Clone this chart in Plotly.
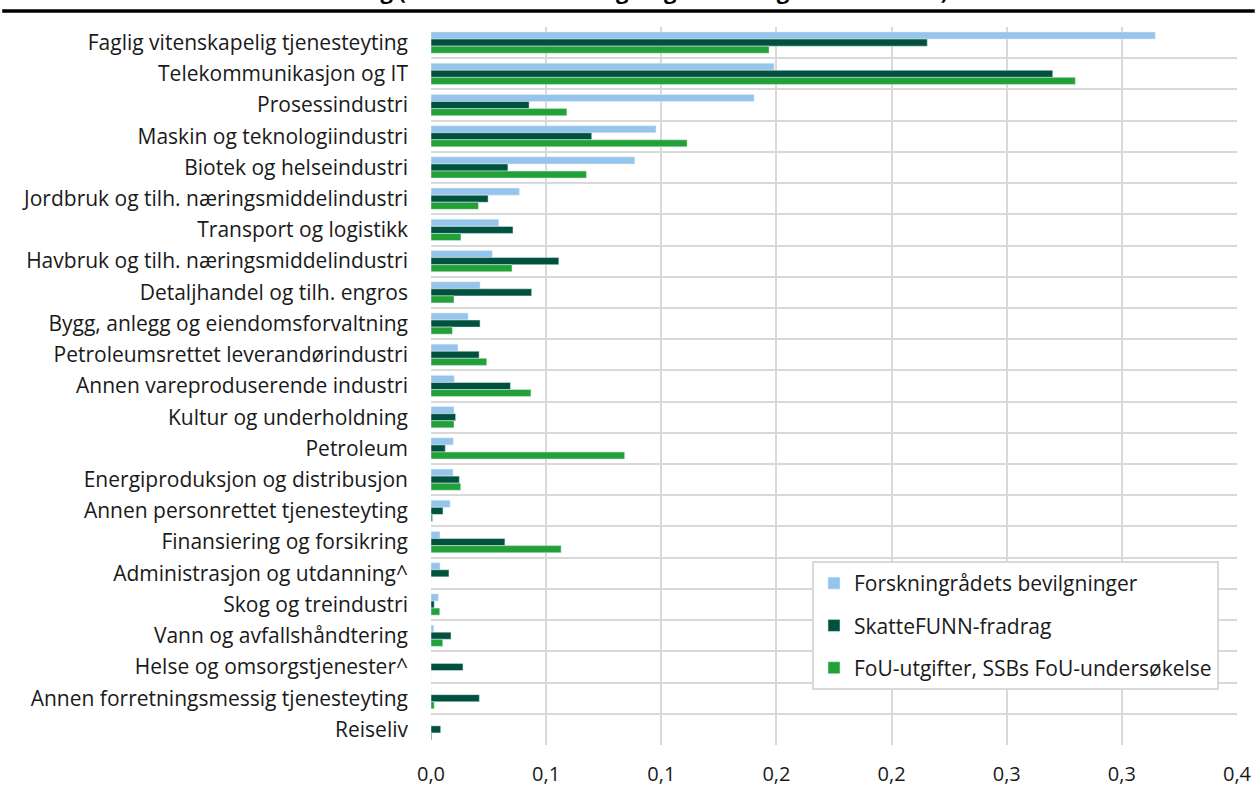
import plotly.graph_objects as go

naeringer = [
    "Faglig vitenskapelig tjenesteyting",
    "Telekommunikasjon og IT",
    "Prosessindustri",
    "Maskin og teknologiindustri",
    "Biotek og helseindustri",
    "Jordbruk og tilh. næringsmiddelindustri",
    "Transport og logistikk",
    "Havbruk og tilh. næringsmiddelindustri",
    "Detaljhandel og tilh. engros",
    "Bygg, anlegg og eiendomsforvaltning",
    "Petroleumsrettet leverandørindustri",
    "Annen vareproduserende industri",
    "Kultur og underholdning",
    "Petroleum",
    "Energiproduksjon og distribusjon",
    "Annen personrettet tjenesteyting",
    "Finansiering og forsikring",
    "Administrasjon og utdanning^",
    "Skog og treindustri",
    "Vann og avfallshåndtering",
    "Helse og omsorgstjenester^",
    "Annen forretningsmessig tjenesteyting",
    "Reiseliv",
]

forskningsradet = [0.3145, 0.149, 0.1403, 0.0977, 0.0885, 0.0384, 0.0294, 0.0266,
                   0.0213, 0.0161, 0.0117, 0.0101, 0.0100, 0.0097, 0.0096, 0.0083,
                   0.0039, 0.0039, 0.0032, 0.0012, 0.0, 0.0, 0.0]
skattefunn = [0.2155, 0.270, 0.0426, 0.0698, 0.0334, 0.0248, 0.0356, 0.0555,
              0.0437, 0.0213, 0.0209, 0.0345, 0.0107, 0.0062, 0.0123, 0.0052,
              0.0321, 0.0078, 0.0014, 0.0087, 0.0139, 0.0210, 0.0042]
fou_utgifter = [0.1468, 0.2798, 0.0590, 0.1112, 0.0675, 0.0206, 0.0130, 0.0352,
                0.0100, 0.0093, 0.0242, 0.0434, 0.0100, 0.0841, 0.0129, 0.0007,
                0.0565, 0.0, 0.0038, 0.0051, 0.0, 0.0014, 0.0004]

x_ticks = [0, 0.05, 0.1, 0.15, 0.2, 0.25, 0.3, 0.35]
x_labels = ["0,0", "0,1", "0,1", "0,2", "0,2", "0,3", "0,3", "0,4"]

serier = [
    ("Forskningrådets bevilgninger", forskningsradet, "#96C5EC"),
    ("SkatteFUNN-fradrag", skattefunn, "#01513F"),
    ("FoU-utgifter, SSBs FoU-undersøkelse", fou_utgifter, "#21A137"),
]

fig = go.Figure()
for navn, verdier, farge in serier:
    fig.add_trace(go.Bar(y=naeringer, x=verdier, name=navn, orientation="h",
                         marker_color=farge, legendgroup=navn))

fig.update_layout(
    width=1257, height=787,
    margin=dict(l=431, r=20, t=27, b=42),
    plot_bgcolor="white", paper_bgcolor="white",
    font=dict(family="Open Sans", size=21, color="#1a1a1a"),
    barmode="group", bargap=0.32, bargroupgap=0,
    showlegend=True,
    legend=dict(x=0.4727, y=0.2563, xanchor="left", yanchor="top",
                bordercolor="#d9d9d9", borderwidth=2, bgcolor="white",
                traceorder="grouped", tracegroupgap=12,
                font=dict(size=21)),
)
fig.update_xaxes(range=[0, 0.35], tickvals=x_ticks, ticktext=x_labels,
                 showgrid=True, gridcolor="#d9d9d9", gridwidth=2,
                 zeroline=False, ticks="", ticklabelstandoff=15,
                 tickfont=dict(size=20), automargin=False)
fig.update_yaxes(categoryorder="array", categoryarray=naeringer,
                 autorange="reversed", tickson="boundaries",
                 showgrid=True, gridcolor="#d9d9d9", gridwidth=2,
                 ticks="", ticklabelstandoff=22, automargin=False)

# avskåret tittel og strek øverst
fig.add_annotation(text="<b>Midler fordelt etter næring (andel av total bevilgning til næringer innen kilde)</b>",
                   xref="paper", yref="paper", x=-0.418, y=1.0285,
                   xanchor="left", yanchor="bottom", showarrow=False,
                   font=dict(size=22, color="black"))
fig.add_shape(type="line", xref="paper", yref="paper",
              x0=-0.532, x1=1.022, y0=1.0223, y1=1.0223,
              line=dict(color="black", width=3.5))

fig.write_html("out.html", config={"displayModeBar": False},
               post_script="document.body.style.margin='0';")
